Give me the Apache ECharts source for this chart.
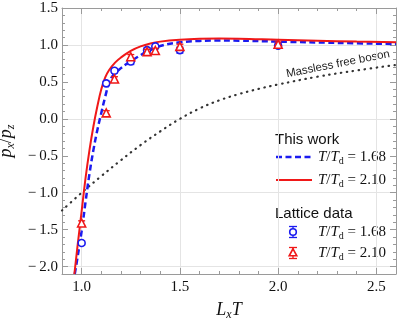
<!DOCTYPE html>
<html>
<head>
<meta charset="UTF-8">
<title></title>
<script type="text/javascript" src="https://cdn.jsdelivr.net/npm/echarts@6.0.0/dist/echarts.min.js"></script>
<style type="text/css">
    html, body { margin: 0; padding: 0; background: #fff; }
    #main { width: 399px; height: 323px; }
</style>
</head>
<body>
<div id="main"></div>
<script type="text/javascript">
    // 刻度
    var xTicks = [1.0, 1.5, 2.0, 2.5];
    var yTicks = [-2.0, -1.5, -1.0, -0.5, 0.0, 0.5, 1.0, 1.5];

    // lattice: [LxT, px/pz, err]
    var lat168 = [[1.0, -1.68, 0.03], [1.125, 0.48, 0.03], [1.167, 0.65, 0.03], [1.25, 0.775, 0.04],
        [1.333, 0.93, 0.03], [1.375, 0.98, 0.03], [1.5, 0.93, 0.04], [2.0, 0.99, 0.03]];
    var lat210 = [[1.0, -1.41, 0.03], [1.125, 0.08, 0.03], [1.167, 0.54, 0.03], [1.25, 0.84, 0.03],
        [1.333, 0.91, 0.03], [1.375, 0.925, 0.03], [1.5, 0.98, 0.03], [2.0, 1.01, 0.03]];

    // this work curves
    var fit168 = [[0.965, -2.1], [0.98, -1.86], [1.0, -1.52], [1.02, -1.12], [1.04, -0.74], [1.06, -0.42],
        [1.08, -0.15], [1.1, 0.08], [1.12, 0.3], [1.14, 0.49], [1.16, 0.59], [1.19, 0.665], [1.23, 0.745],
        [1.28, 0.83], [1.33, 0.905], [1.4, 0.985], [1.5, 1.035], [1.6, 1.055], [1.7, 1.06], [1.8, 1.058],
        [2.0, 1.045], [2.3, 1.028], [2.6, 1.012]];
    var fit210 = [[0.963, -2.1], [0.98, -1.7], [1.0, -1.25], [1.02, -0.8], [1.04, -0.42], [1.06, -0.1],
        [1.08, 0.17], [1.1, 0.4], [1.12, 0.56], [1.14, 0.66], [1.17, 0.76], [1.2, 0.83], [1.25, 0.92],
        [1.3, 0.98], [1.35, 1.02], [1.4, 1.045], [1.5, 1.07], [1.6, 1.083], [1.7, 1.087], [1.8, 1.085],
        [2.0, 1.07], [2.2, 1.057], [2.4, 1.045], [2.6, 1.035]];
    // massless free boson
    var boson = [[0.9, -1.24], [1.0, -1.0], [1.1, -0.775], [1.2, -0.56], [1.3, -0.355], [1.4, -0.17],
        [1.5, 0.0], [1.6, 0.14], [1.7, 0.25], [1.8, 0.335], [1.9, 0.405], [2.0, 0.465], [2.2, 0.57],
        [2.4, 0.655], [2.6, 0.73]];

    var blue = '#1b1bf0', red = '#f01818', frame = '#9a9a9a', grid = '#e4e4e4';
    var serif = 'Liberation Serif';
    var T = 'rgba(0,0,0,0)';

    function tickFmt(list) {
        return function (v) {
            for (var i = 0; i < list.length; i++) {
                if (Math.abs(v - list[i]) < 1e-6) {
                    return (v < -1e-9 ? '\u2212\u2009' : '') + Math.abs(v).toFixed(1);
                }
            }
            return '';
        };
    }

    var rich = {
        i: {fontFamily: serif, fontStyle: 'italic', fontSize: 18, lineHeight: 22, color: '#111'},
        r: {fontFamily: serif, fontSize: 18, lineHeight: 22, color: '#111'},
        s: {fontFamily: serif, fontStyle: 'italic', fontSize: 12, lineHeight: 12, verticalAlign: 'bottom', color: '#111'}
    };
    var legRich = {
        i: {fontFamily: serif, fontStyle: 'italic', fontSize: 15, lineHeight: 18, fill: '#111'},
        r: {fontFamily: serif, fontSize: 15, lineHeight: 18, fill: '#111'},
        s: {fontFamily: serif, fontSize: 10, lineHeight: 10, verticalAlign: 'bottom', fill: '#111'}
    };

    // 一根轴: 小刻度(0.1) 或 大刻度(customValues)
    function mkAxis(pos, min, max, major, ticks, extra) {
        var a = {
            type: 'value', min: min, max: max, position: pos,
            axisLine: {show: !major, onZero: false, lineStyle: {color: frame, width: 1}},
            axisTick: {show: true, inside: true, length: major ? 6 : 3, lineStyle: {color: frame, width: 1}},
            axisLabel: {show: false},
            splitLine: {show: false}
        };
        if (major) a.axisTick.customValues = ticks;
        else a.interval = 0.1;
        for (var k in extra) a[k] = extra[k];
        return a;
    }

    var xMainExtra = {
        axisLabel: {show: true, formatter: tickFmt(xTicks), margin: 6, color: '#111', fontFamily: serif, fontSize: 15},
        splitLine: {show: true, lineStyle: {color: [T, grid, T, T, T], width: 1}},
        name: '{i|L}{s|x}{i|T}', nameLocation: 'middle', nameGap: 25,
        nameTextStyle: {rich: rich}
    };
    var yMainExtra = {
        axisLabel: {show: true, formatter: tickFmt(yTicks), margin: 4, color: '#111', fontFamily: serif, fontSize: 15},
        splitLine: {show: true, lineStyle: {color: [T, grid, T, T, T, T, T, T, T, T], width: 1}},
        name: '{i|p}{s|x}{r|/}{i|p}{s|z}', nameLocation: 'middle', nameGap: 37, nameRotate: 90,
        nameTextStyle: {rich: rich}
    };

    function errBar(color) {
        return function (params, api) {
            var x = api.value(0), y = api.value(1), e = api.value(2);
            var lo = api.coord([x, y - e]), hi = api.coord([x, y + e]);
            var w = 3.5, st = {stroke: color, lineWidth: 1.3};
            return {
                type: 'group', children: [
                    {type: 'line', shape: {x1: lo[0], y1: lo[1], x2: hi[0], y2: hi[1]}, style: st},
                    {type: 'line', shape: {x1: lo[0] - w, y1: lo[1], x2: lo[0] + w, y2: lo[1]}, style: st},
                    {type: 'line', shape: {x1: hi[0] - w, y1: hi[1], x2: hi[0] + w, y2: hi[1]}, style: st}
                ]
            };
        };
    }

    function legLine(y, color, dash) {
        return {type: 'line', shape: {x1: 276, y1: y, x2: 312, y2: y},
            style: {stroke: color, lineWidth: dash ? 2.5 : 2, lineDash: dash || null}};
    }
    function legText(y, val) {
        return {type: 'text', x: 318, y: y,
            style: {text: '{i|T}{r|/}{i|T}{s|d}{r| = ' + val + '}', rich: legRich, verticalAlign: 'middle', align: 'left'}};
    }
    function legMark(y, color, sym) {
        var w = 4, ch = [
            {type: 'line', shape: {x1: 293, y1: y - 5.5, x2: 293, y2: y + 5.5}, style: {stroke: color, lineWidth: 1.3}},
            {type: 'line', shape: {x1: 293 - w, y1: y - 5.5, x2: 293 + w, y2: y - 5.5}, style: {stroke: color, lineWidth: 1.3}},
            {type: 'line', shape: {x1: 293 - w, y1: y + 5.5, x2: 293 + w, y2: y + 5.5}, style: {stroke: color, lineWidth: 1.3}}
        ];
        if (sym === 'circle') ch.push({type: 'circle', shape: {cx: 293, cy: y, r: 3.3}, style: {fill: '#fff', stroke: color, lineWidth: 1.6}});
        else ch.push({type: 'polygon', shape: {points: [[293, y - 4.2], [296.8, y + 2.8], [289.2, y + 2.8]]}, style: {fill: '#fff', stroke: color, lineWidth: 1.6}});
        return {type: 'group', children: ch};
    }

    var myChart = echarts.init(document.getElementById('main'), null, {renderer: 'canvas'});
    var option = {
        animation: false,
        backgroundColor: '#fff',
        grid: {left: 62, right: 3, top: 8, bottom: 49, containLabel: false, outerBoundsMode: 'none'},
        xAxis: [
            mkAxis('bottom', 0.9, 2.6, false, null, xMainExtra),
            mkAxis('bottom', 0.9, 2.6, true, xTicks, {}),
            mkAxis('top', 0.9, 2.6, false, null, {}),
            mkAxis('top', 0.9, 2.6, true, xTicks, {})
        ],
        yAxis: [
            mkAxis('left', -2.1, 1.5, false, null, yMainExtra),
            mkAxis('left', -2.1, 1.5, true, yTicks, {}),
            mkAxis('right', -2.1, 1.5, false, null, {}),
            mkAxis('right', -2.1, 1.5, true, yTicks, {})
        ],
        graphic: [
            {type: 'text', x: 275, y: 140, style: {text: 'This work', font: '15px "Liberation Sans"', fill: '#111', verticalAlign: 'middle'}},
            legLine(157, blue, [6, 3.5]),
            legText(157, '1.68'),
            legLine(180, red),
            legText(180, '2.10'),
            {type: 'text', x: 275, y: 214, style: {text: 'Lattice data', font: '15px "Liberation Sans"', fill: '#111', verticalAlign: 'middle'}},
            legMark(232, blue, 'circle'),
            legText(232, '1.68'),
            legMark(253, red, 'triangle'),
            legText(253, '2.10'),
            {type: 'text', x: 338, y: 64, rotation: 0.195,
                style: {text: 'Massless free boson', font: '11.5px "Liberation Sans"', fill: '#222', align: 'center', verticalAlign: 'middle'}}
        ],
        series: [
            {
                name: 'boson', type: 'line', data: boson, showSymbol: false, smooth: 0.4,
                lineStyle: {color: '#333', width: 2.2, type: [0.5, 5.5], cap: 'round'}, z: 2
            },
            {
                name: 'fit168', type: 'line', data: fit168, showSymbol: false, smooth: 0.4,
                lineStyle: {color: blue, width: 2.5, type: [6, 3.5]}, z: 3
            },
            {
                name: 'fit210', type: 'line', data: fit210, showSymbol: false, smooth: 0.4,
                lineStyle: {color: red, width: 2}, z: 3
            },
            {
                name: 'err168', type: 'custom', data: lat168, renderItem: errBar(blue),
                encode: {x: 0, y: 1}, z: 4
            },
            {
                name: 'lat168', type: 'scatter', data: lat168, symbol: 'circle', symbolSize: 7,
                itemStyle: {color: '#fff', borderColor: blue, borderWidth: 1.6, opacity: 1}, z: 5
            },
            {
                name: 'err210', type: 'custom', data: lat210, renderItem: errBar(red),
                encode: {x: 0, y: 1}, z: 6
            },
            {
                name: 'lat210', type: 'scatter', data: lat210, symbol: 'triangle', symbolSize: 8,
                itemStyle: {color: '#fff', borderColor: red, borderWidth: 1.6, opacity: 1}, z: 7
            }
        ]
    };
    myChart.setOption(option);
</script>
</body>
</html>
